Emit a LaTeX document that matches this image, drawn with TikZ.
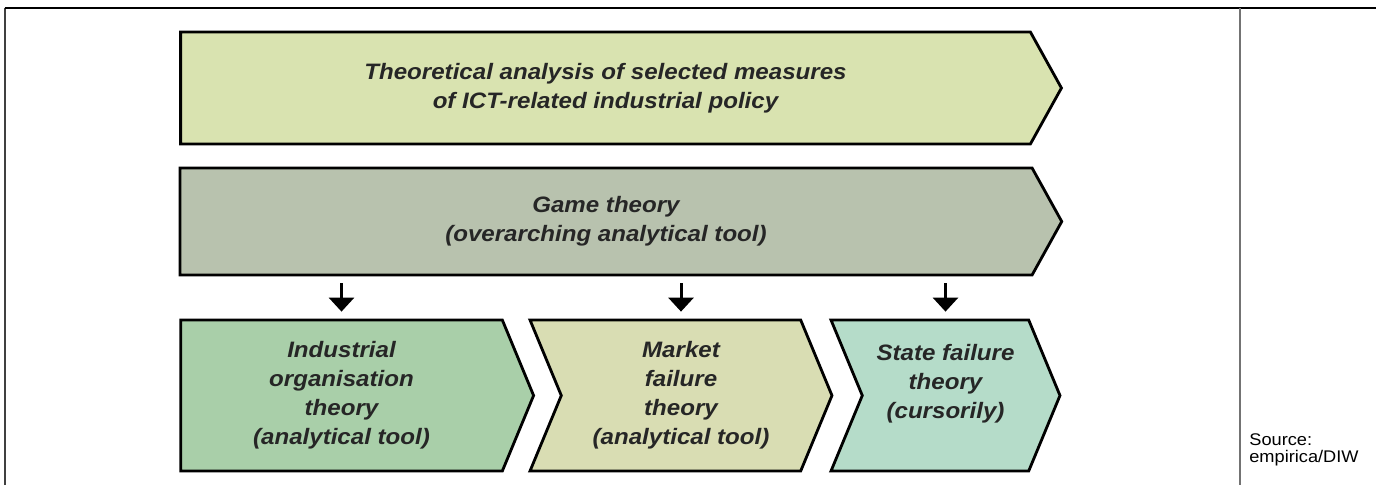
\documentclass[tikz,border=0pt]{standalone}
\usepackage{fontspec}
\setmainfont{Liberation Sans}[FakeStretch=1.08]
\usetikzlibrary{shapes.symbols,arrows.meta}

\definecolor{policyfill}{HTML}{D9E3B0}
\definecolor{gamefill}{HTML}{B8C2AE}
\definecolor{indfill}{HTML}{A9CFA9}
\definecolor{marketfill}{HTML}{D9DDB3}
\definecolor{statefill}{HTML}{B5DCC9}

\begin{document}
\begin{tikzpicture}[
    x=0.02cm, y=-0.02cm,
    stage/.style={draw=black, line width=1.6pt, shape=signal, signal to=east,
                  signal pointer angle=122, align=center, inner sep=0pt,
                  text=black!85,
                  font=\fontsize{12.7}{16.5}\selectfont\bfseries\itshape},
    chevron/.style={stage, signal from=west, signal pointer angle=135,
                    minimum height=3.02cm},
    arr/.style={line width=1.7pt, -{Triangle[width=0.5cm,length=0.28cm]}},
  ]
  \useasboundingbox (0,0) rectangle (1376,485);

  % frame and divider
  \draw[black!75, line width=1pt] (5,485) -- (5,8);
  \draw[line width=1.5pt] (4.5,8) -- (1376,8);
  \draw[black!55, line width=1pt] (1240,8) -- (1240,485);

  % two wide bands
  \node[stage, fill=policyfill, minimum width=17.62cm, minimum height=2.24cm]
    (policy) at (605.5,88)
    {Theoretical analysis of selected measures\\of ICT-related industrial policy};
  \node[stage, fill=gamefill, minimum width=17.64cm, minimum height=2.14cm]
    (game) at (606,221.5)
    {Game theory\\(overarching analytical tool)};

  % three theories
  \node[chevron, fill=indfill, signal from=nowhere, minimum width=7.06cm]
    (ind) at (341.5,395.5)
    {Industrial\\organisation\\theory\\(analytical tool)};
  \node[chevron, fill=marketfill, minimum width=6.04cm]
    (market) at (681,395.5)
    {Market\\failure\\theory\\(analytical tool)};
  \node[chevron, fill=statefill, minimum width=4.58cm]
    (state) at (945.5,395.5)
    {State failure\\theory\\(cursorily)\\~};

  \draw[arr] ([yshift=-0.14cm]game.south -| ind.north) -- ([yshift=0.14cm]ind.north);
  \draw[arr] ([yshift=-0.14cm]game.south -| market.north) -- ([yshift=0.14cm]market.north);
  \draw[arr] ([yshift=-0.14cm]game.south -| state.north) -- ([yshift=0.14cm]state.north);

  \node[anchor=north west, align=left, inner sep=0pt,
        font=\fontsize{9.6}{9.8}\selectfont] (src) at (1249,433)
    {Source:\\empirica/DIW};
\end{tikzpicture}
\end{document}
